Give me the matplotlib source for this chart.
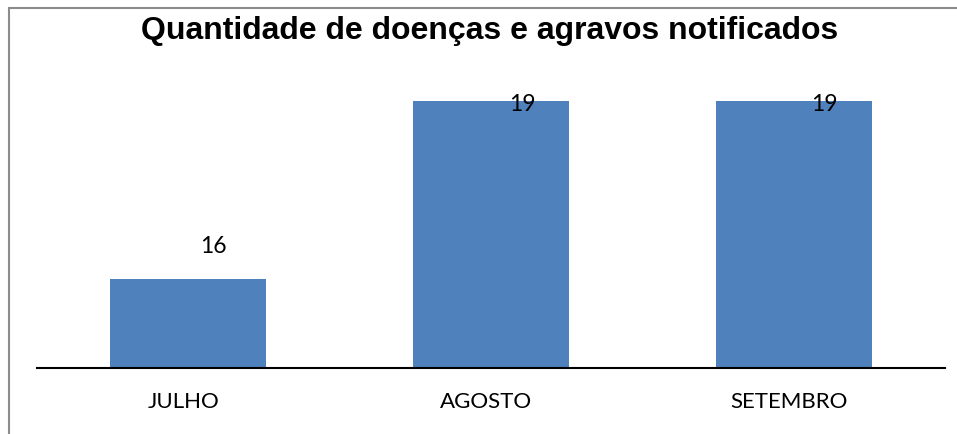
import matplotlib
matplotlib.use('Agg')
import matplotlib.pyplot as plt
import matplotlib.patches as mpatches
import matplotlib.transforms as mtransforms

# chart data
meses = ['JULHO', 'AGOSTO', 'SETEMBRO']
notificacoes = [16, 19, 19]

BAR_COLOR = '#4F81BD'
W, H = 957, 434

fig = plt.figure(figsize=(W / 100, H / 100), dpi=100)

# outer chart border (only top and left are visible in the picture)
fig.add_artist(mpatches.Rectangle((8.5 / W, -0.1), 1.2, 1.1 - 8.5 / H,
                                  transform=fig.transFigure, fill=False,
                                  edgecolor='#8c8c8c', linewidth=1.5))

ax = fig.add_axes([37 / W, (H - 368) / H, (945 - 37) / W, (368 - 42) / H])
x = range(len(meses))
ax.bar(x, notificacoes, width=0.515, color=BAR_COLOR)

ax.set_ylim(14.5, 20)
ax.set_xlim(-0.5, len(meses) - 0.5)
ax.set_yticks([])
ax.set_xticks(list(x))
ax.set_xticklabels(meses, fontfamily='Lato', fontsize=16)
ax.tick_params(axis='x', length=0, pad=17)
# category labels sit a few pixels left of the bar centres in the original
shift = mtransforms.ScaledTranslation(-5 / 100, 0, fig.dpi_scale_trans)
for lbl in ax.get_xticklabels():
    lbl.set_transform(lbl.get_transform() + shift)
for s in ['top', 'right', 'left']:
    ax.spines[s].set_visible(False)
ax.spines['bottom'].set_linewidth(1.5)
ax.spines['bottom'].set_zorder(5)

# value labels, placed like the Excel original (right of centre)
offsets = [(25, 33), (31, -3), (31, -3)]
for xi, v, off in zip(x, notificacoes, offsets):
    ax.annotate(str(v), (xi, v), xytext=off, textcoords='offset pixels',
                ha='center', va='center', fontfamily='Lato', fontsize=16.5)

fig.text(490 / W, 1 - 31 / H, 'Quantidade de doenças e agravos notificados',
         ha='center', va='center', fontfamily='Liberation Sans',
         fontweight='bold', fontsize=23)

fig.savefig('out.png', dpi=100)
